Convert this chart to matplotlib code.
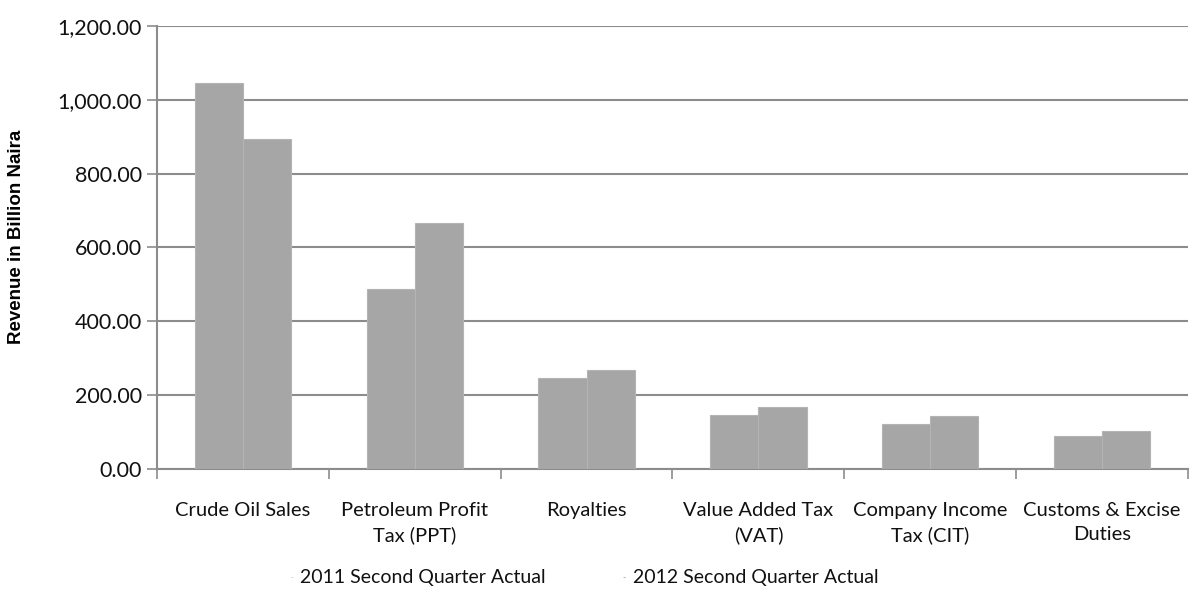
import matplotlib
matplotlib.use("Agg")
import matplotlib.pyplot as plt
import numpy as np

categories = ["Crude Oil Sales", "Petroleum Profit\nTax (PPT)", "Royalties",
              "Value Added Tax\n(VAT)", "Company Income\nTax (CIT)", "Customs & Excise\nDuties"]
series_names = ["2011 Second Quarter Actual", "2012 Second Quarter Actual"]
q2_2011 = [1046, 487, 246, 146, 121, 88]
q2_2012 = [893, 667, 268, 169, 144, 103]
yticks = [0, 200, 400, 600, 800, 1000, 1200]

plt.rcParams['font.family'] = ['Lato', 'DejaVu Sans']

fig = plt.figure(figsize=(11.91, 6.02), dpi=100)
ax = fig.add_axes([0.1318, 0.221, 0.8657, 0.7358])

x = np.arange(len(categories))
w = 0.28
bar_color = "#a6a6a6"
ax.bar(x - w/2, q2_2011, width=w, color=bar_color, edgecolor="#b4b4b4", linewidth=0.8, zorder=3)
ax.bar(x + w/2, q2_2012, width=w, color=bar_color, edgecolor="#b4b4b4", linewidth=0.8, zorder=3)

ax.set_xlim(-0.5, len(categories) - 0.5)
ax.set_ylim(0, 1200)
ax.set_yticks(yticks)
ax.set_yticklabels([f"{v:,.2f}" for v in yticks], fontsize=15.5, color="#111111")
ax.yaxis.grid(True, color="#8c8c8c", linewidth=1.5, zorder=1)
ax.set_axisbelow(True)

ax.set_xticks(np.arange(len(categories) + 1) - 0.5)
ax.set_xticklabels([])
ax.set_xticks(x, minor=True)
ax.set_xticklabels(categories, minor=True, fontsize=14.5, color="#111111", linespacing=1.5)
ax.tick_params(axis='x', which='minor', length=0, pad=24)
ax.tick_params(axis='x', which='major', length=7, color="#8c8c8c", width=1.2)
ax.tick_params(axis='y', length=7, color="#8c8c8c", width=1.2, pad=4)

for s in ["top", "right"]:
    ax.spines[s].set_visible(False)
ax.spines["left"].set_color("#8c8c8c")
ax.spines["left"].set_linewidth(1.5)
ax.spines["bottom"].set_color("#8c8c8c")
ax.spines["bottom"].set_linewidth(1.5)

ax.set_ylabel("Revenue in Billion Naira", fontsize=13.5, fontweight="bold",
              family="Liberation Sans", va="center")
ax.yaxis.set_label_coords(-0.136, 0.525)

# legend with tiny markers
fig.text(0.2435, 0.041, "-", color="#c0b8b8", fontsize=6, ha="left", va="center")
fig.text(0.252, 0.041, series_names[0], fontsize=14, color="#111111", ha="left", va="center")
fig.text(0.5225, 0.041, "-", color="#6a8a99", fontsize=6, ha="left", va="center")
fig.text(0.5315, 0.041, series_names[1], fontsize=14, color="#111111", ha="left", va="center")

fig.savefig("out.png", dpi=100)
